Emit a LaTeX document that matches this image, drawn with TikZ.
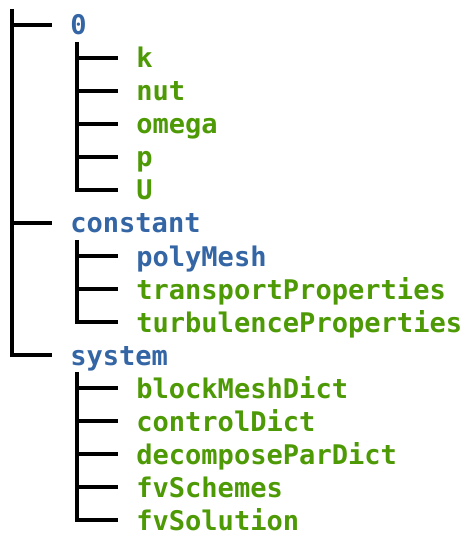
\documentclass[tikz,border=0pt]{standalone}
\usepackage{fontspec}
\newfontfamily\treefont{DejaVu Sans Mono}
\definecolor{dirblue}{HTML}{3465A4}
\definecolor{filegreen}{HTML}{4E9A06}
\begin{document}
\begin{tikzpicture}[x=0.75pt,y=-0.75pt,
  entry/.style={anchor=west,inner xsep=13.5pt,inner ysep=0pt,
    text height=15pt,text depth=0pt,
    font=\treefont\bfseries\fontsize{20.3pt}{24pt}\selectfont},
  dir/.style={entry,text=dirblue},
  file/.style={entry,text=filegreen},
  branch/.style={line width=2.3pt,black}]
\useasboundingbox (0,0) rectangle (466,534);

% top-level folders
\node[dir]  (d0)       at (52,25)  {0};
\node[file] (k)        at (118,58) {k};
\node[file] (nut)      at (118,91) {nut};
\node[file] (omega)    at (118,124) {omega};
\node[file] (p)        at (118,157) {p};
\node[file] (U)        at (118,190) {U};
\node[dir]  (constant) at (52,223) {constant};
\node[dir]  (polyMesh) at (118,256) {polyMesh};
\node[file] (transp)   at (118,289) {transportProperties};
\node[file] (turb)     at (118,322) {turbulenceProperties};
\node[dir]  (system)   at (52,355) {system};
\node[file] (bmd)      at (118,388) {blockMeshDict};
\node[file] (cd)       at (118,421) {controlDict};
\node[file] (dpd)      at (118,454) {decomposeParDict};
\node[file] (fvsch)    at (118,487) {fvSchemes};
\node[file] (fvsol)    at (118,520) {fvSolution};

% trunk and its branches
\coordinate (root) at (12,9);
\draw[branch] (root) |- (system.west);
\draw[branch] (root |- d0.west) -- (d0.west);
\draw[branch] (root |- constant.west) -- (constant.west);

% children of 0
\coordinate (b0) at (77,42);
\draw[branch] (b0) |- (U.west);
\foreach \n in {k,nut,omega,p}
  \draw[branch] (b0 |- \n.west) -- (\n.west);

% children of constant
\coordinate (bc) at (77,240);
\draw[branch] (bc) |- (turb.west);
\foreach \n in {polyMesh,transp}
  \draw[branch] (bc |- \n.west) -- (\n.west);

% children of system
\coordinate (bs) at (77,372);
\draw[branch] (bs) |- (fvsol.west);
\foreach \n in {bmd,cd,dpd,fvsch}
  \draw[branch] (bs |- \n.west) -- (\n.west);
\end{tikzpicture}
\end{document}
